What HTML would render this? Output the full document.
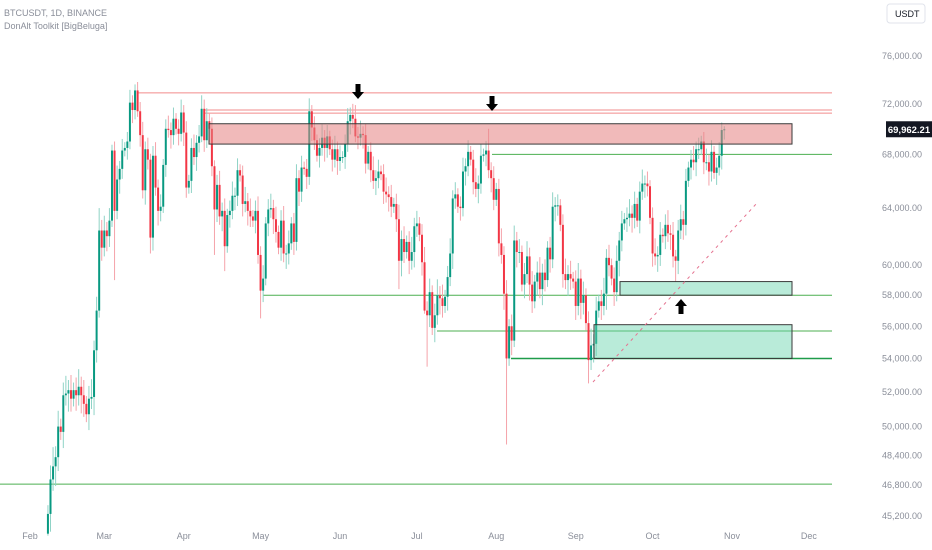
<!DOCTYPE html>
<html><head><meta charset="utf-8"><style>
body{margin:0;background:#fff;font-family:"Liberation Sans",sans-serif}
#c{position:absolute;left:0;top:0}
</style></head><body>
<svg id="c" width="932" height="550">
<text x="4" y="16" font-size="9" fill="#8a8e99">BTCUSDT, 1D, BINANCE</text>
<text x="4" y="29" font-size="9" fill="#8a8e99">DonAlt Toolkit [BigBeluga]</text>
<rect x="887" y="4" width="38" height="19" rx="3" fill="#fff" stroke="#e0e3eb"/>
<text x="895" y="17" font-size="9" fill="#131722">USDT</text>
<g id="lv"></g><g id="cd"></g><g id="ov"></g><g id="ax"></g>
</svg>
<script>
const closes=[45.3,47.1,47.8,48.3,50.0,49.7,51.8,51.9,52.1,51.6,52.1,51.8,52.3,51.8,51.3,50.7,51.6,51.7,54.5,57.0,62.4,61.2,
62.4,62.0,63.1,68.3,63.8,66.1,66.9,68.3,68.5,69.0,72.1,71.5,73.1,71.4,69.5,65.3,68.4,67.6,61.9,67.9,65.5,63.8,64.1,67.2,70.0,69.9,69.5,70.8,70.0,69.6,71.3,
69.7,65.5,66.0,68.5,67.8,68.9,69.4,71.6,69.1,70.6,70.0,67.1,63.9,65.7,63.4,63.8,61.3,63.5,63.8,64.9,64.9,66.8,66.4,64.3,64.5,63.8,63.4,63.1,63.8,60.7,
58.3,59.1,62.9,63.9,64.0,63.2,62.3,61.2,63.1,60.8,60.8,61.5,62.9,61.6,66.2,65.2,67.0,66.9,66.3,71.4,70.1,69.1,67.9,68.5,69.3,68.5,69.4,68.4,67.6,68.4,67.5,
67.8,67.8,68.8,70.6,71.1,70.8,69.4,69.3,69.6,69.5,67.3,68.2,66.8,66.0,66.2,66.7,66.5,65.2,65.0,64.8,64.1,64.3,63.2,60.3,61.8,60.9,61.6,60.3,60.9,62.7,
62.9,62.1,60.2,57.0,56.7,58.2,55.9,56.7,58.0,57.8,57.3,57.9,59.2,60.8,64.7,65.0,64.1,64.0,66.7,67.1,68.2,67.6,65.9,65.4,65.8,67.9,68.0,68.3,66.8,66.2,64.6,
65.4,61.5,60.7,58.1,54.0,56.0,55.1,61.7,60.9,60.9,58.7,59.4,60.6,58.7,57.6,58.9,59.5,58.4,59.5,59.0,61.2,60.4,64.1,64.2,64.2,62.8,59.4,59.0,59.4,59.1,58.9,
57.3,59.1,57.5,58.0,56.2,53.9,54.8,54.9,57.0,57.6,57.3,58.1,60.5,60.0,59.1,58.2,60.3,61.7,62.9,63.2,63.3,63.6,63.3,64.3,63.1,65.2,65.8,65.8,65.6,63.3,
60.8,60.6,60.7,62.1,62.0,62.8,62.2,62.1,60.6,60.3,62.4,63.2,62.8,66.0,67.0,67.6,67.4,68.4,68.4,69.0,67.4,67.4,66.7,68.2,66.6,67.0,67.9,69.9,69.96];
const firstOpen=44.3;
const highOver={20:64.0,26:69.0,34:73.6,35:73.8,60:72.7,103:71.9,120:71.9,172:70.0,199:65.0,264:70.2};
const lowOver={0:44.2,26:59.0,40:60.8,65:60.7,69:59.6,83:56.5,137:58.4,147:56.8,148:53.5,179:49.0,182:54.7,211:52.5,245:58.9};
const yTicks=[76000,72000,68000,64000,60000,58000,56000,54000,52000,50000,48400,46800,45200];
const months=["Feb","Mar","Apr","May","Jun","Jul","Aug","Sep","Oct","Nov","Dec"];
const monthDays=[0,29,60,90,121,151,182,213,243,274,304];
const lastPrice=69962.21;
const NS="http://www.w3.org/2000/svg";
const yS=p=>56+885*Math.log(76/p);
const xS=d=>30+d*2.562;
function mk(par,tag,at){const e=document.createElementNS(NS,tag);for(const k in at)e.setAttribute(k,at[k]);document.getElementById(par).appendChild(e);return e;}
let prev=firstOpen;
closes.forEach((c,i)=>{
  const o=prev;prev=c;const up=c>=o;
  const top=Math.max(o,c),bot=Math.min(o,c);
  const h=highOver[i]!==undefined?highOver[i]:top+0.45+((i*7)%5)*0.15;
  const l=lowOver[i]!==undefined?lowOver[i]:bot-0.45-((i*3)%5)*0.15;
  const x=xS(i+7);
  const col=up?"#089981":"#f23645";
  const w=mk("cd","line",{x1:x,x2:x,y1:yS(h),y2:yS(l),stroke:up?"#8fd3c6":"#f5a3aa","stroke-width":1});
  
  
  const by=yS(top),bh=Math.max(1,yS(bot)-by);
  const b=mk("cd","rect",{x:x-1,y:by,width:2,height:bh,fill:col});
  
  
});
const redLevels=[[137,72.9],[205,71.5],[205,71.25]];
redLevels.forEach(r=>{const e=mk("lv","line",{x1:r[0],x2:832,y1:yS(r[1]),y2:yS(r[1]),stroke:"#f28b8b","stroke-width":1});
});
const greenLevels=[[492,68.0,1],[263,58.0,1],[437,55.7,1],[511,54.0,1.5],[0,46.85,1]];
greenLevels.forEach(g=>{const e=mk("lv","line",{x1:g[0],x2:832,y1:yS(g[1]),y2:yS(g[1]),stroke:g[2]>1?"#1f9c4a":"#4caf50","stroke-width":g[2]});
});
const zones=[[209,792,70.4,68.8,"rgba(230,130,130,0.55)"],[620,792,58.9,58.0,"rgba(100,210,170,0.45)"],[594,792,56.1,54.0,"rgba(100,210,170,0.45)"]];
zones.forEach(z=>{const e=mk("ov","rect",{x:z[0],y:yS(z[2]),width:z[1]-z[0],height:yS(z[3])-yS(z[2]),fill:z[4],stroke:"#3a3a3a","stroke-width":1});
});
const tl=mk("ov","line",{x1:593,y1:382,x2:757,y2:203,stroke:"#e57390","stroke-width":1,"stroke-dasharray":"3,4"});

function arrow(x,y,down){const d=down?`M${x-2.5},${y} h5 v8 h3.5 l-6,7 l-6,-7 h3.5z`:`M${x-2.5},${y+15} h5 v-8 h3.5 l-6,-7 l-6,7 h3.5z`;
const e=mk("ov","path",{d:d,fill:"#000"});}
arrow(358,84,true);arrow(492,96,true);arrow(681,299,false);
yTicks.forEach(v=>{const t=mk("ax","text",{x:922,y:yS(v/1000)+3,"font-size":9,fill:"#8a8e99","text-anchor":"end"});
t.textContent=v.toLocaleString("en-US",{minimumFractionDigits:2});
});
months.forEach((m,i)=>{const t=mk("ax","text",{x:xS(monthDays[i]),y:539,"font-size":9,fill:"#8a8e99","text-anchor":"middle"});
t.textContent=m;});
const py=yS(lastPrice/1000);
const pr=mk("ax","rect",{x:886,y:py-8,width:46,height:16,fill:"#131722"});

const pt=mk("ax","text",{x:909,y:py+3.5,"font-size":9.5,fill:"#fff","text-anchor":"middle","font-weight":"bold"});
pt.textContent=lastPrice.toLocaleString("en-US",{minimumFractionDigits:2});

</script>
</body></html>
